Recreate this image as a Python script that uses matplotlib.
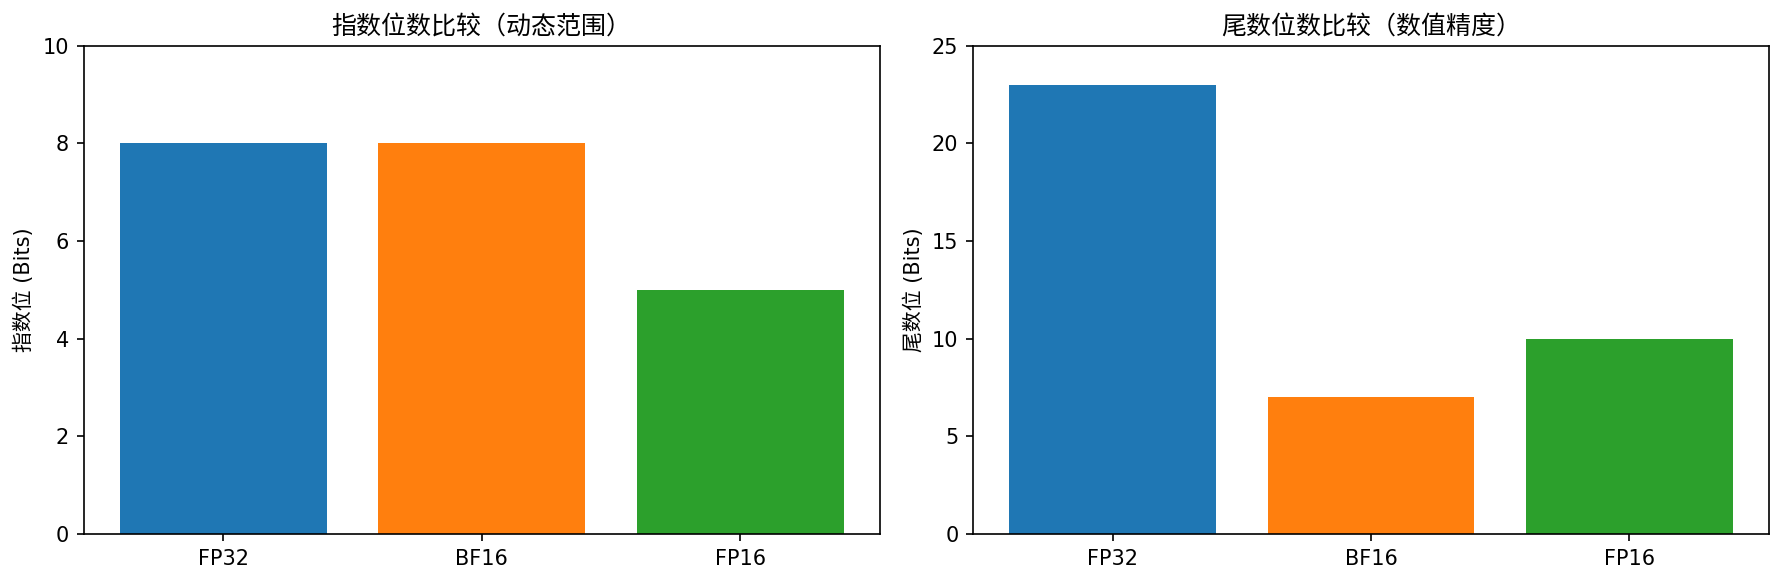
import matplotlib
matplotlib.use("Agg")
import matplotlib.pyplot as plt

plt.rcParams['font.family'] = ['DejaVu Sans', 'Noto Sans CJK SC']

formats = ["FP32", "BF16", "FP16"]
exponent_bits = [8, 8, 5]
mantissa_bits = [23, 7, 10]
colors = ["#1f77b4", "#ff7f0e", "#2ca02c"]

left_title = "指数位数比较（动态范围）"
right_title = "尾数位数比较（数值精度）"
left_ylabel = "指数位 (Bits)"
right_ylabel = "尾数位 (Bits)"

W, H = 1783, 585
fig = plt.figure(figsize=(W/150, H/150), dpi=150)
bottom = 1 - 534/H
height = (534 - 45.7)/H
ax1 = fig.add_axes([83.7/W, bottom, 796/W, height])
ax2 = fig.add_axes([973/W, bottom, 796/W, height])

ax1.bar(formats, exponent_bits, color=colors)
ax1.set_ylim(0, 10)
ax1.set_title(left_title)
ax1.set_ylabel(left_ylabel)

ax2.bar(formats, mantissa_bits, color=colors)
ax2.set_ylim(0, 25)
ax2.set_title(right_title)
ax2.set_ylabel(right_ylabel)

fig.savefig("out.png", dpi=150)
